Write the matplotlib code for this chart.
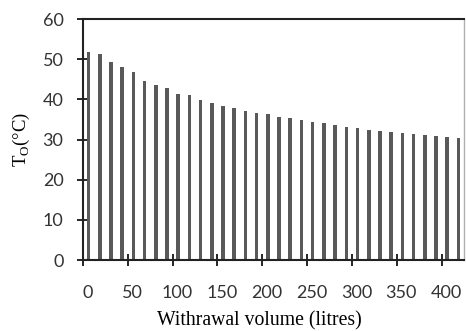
import matplotlib.pyplot as plt
from matplotlib.transforms import ScaledTranslation

# withdrawal volume (litres), centre of each bar
volume = [6.25, 18.75, 31.25, 43.75, 56.25, 68.75, 81.25, 93.75, 106.25, 118.75,
          131.25, 143.75, 156.25, 168.75, 181.25, 193.75, 206.25, 218.75, 231.25,
          243.75, 256.25, 268.75, 281.25, 293.75, 306.25, 318.75, 331.25, 343.75,
          356.25, 368.75, 381.25, 393.75, 406.25, 418.75]
# outlet temperature (C)
t_out = [51.9, 51.3, 49.3, 48.0, 46.8, 44.6, 43.5, 42.9, 41.4, 41.0,
         39.8, 39.1, 38.3, 37.9, 37.1, 36.7, 36.3, 35.7, 35.3, 34.8,
         34.4, 34.1, 33.7, 33.2, 32.9, 32.3, 32.1, 31.8, 31.6, 31.3,
         31.1, 30.8, 30.7, 30.4]

xticks = [0, 50, 100, 150, 200, 250, 300, 350, 400]
yticks = [0, 10, 20, 30, 40, 50, 60]

fig = plt.figure(figsize=(4.66, 3.31), dpi=100)
ax = fig.add_axes([0.178, 0.2145, 0.8177, 0.728])

ax.bar(volume, t_out, width=4.0, color="#595959", zorder=2)

ax.set_xlim(0, 425)
ax.set_ylim(0, 60)
ax.set_xticks(xticks)
ax.set_yticks(yticks)

tickfont = {"family": "Lato", "size": 13, "color": "#333333"}
ax.set_xticklabels([str(v) for v in xticks], fontdict=tickfont)
ax.set_yticklabels([str(v) for v in yticks], fontdict=tickfont)
ax.tick_params(axis="both", direction="inout", length=8, width=1.2, color="black")
ax.tick_params(axis="y", pad=10.0)
ax.tick_params(axis="x", pad=14)

# excel-ish: x labels sit a little right of their ticks
shift = ScaledTranslation(4.5 / 100, 0, fig.dpi_scale_trans)
for lab in ax.get_xticklabels():
    lab.set_transform(lab.get_transform() + shift)

for side in ["left", "bottom", "top"]:
    ax.spines[side].set_color("#222222")
    ax.spines[side].set_linewidth(1.5)
ax.spines["right"].set_color("#b0b0b0")
ax.spines["right"].set_linewidth(1.0)

ax.set_xlabel("Withrawal volume (litres)", family="Liberation Serif", size=14.2)
ax.xaxis.set_label_coords(0.462, -0.212)
ax.set_ylabel(r"T$_\mathregular{O}$(°C)", family="Liberation Serif", size=13.5, labelpad=8)

fig.savefig("out.png", dpi=100)
